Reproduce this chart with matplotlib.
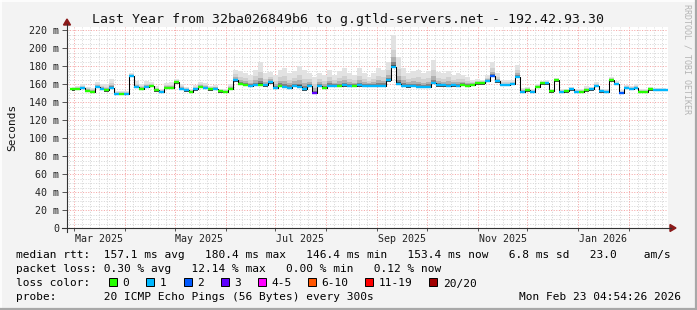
import numpy as np
import pandas as pd
import matplotlib
matplotlib.use("Agg")
import matplotlib.pyplot as plt
from matplotlib.patches import Rectangle, Polygon

W, H, DPI = 697, 310, 100
MONO = "DejaVu Sans Mono"

# one sample every 3 days (ms)
dates = pd.date_range("2025-02-28", periods=121, freq="3D")
median_ms = [
    154, 155, 156, 152.6, 151.5, 157, 155, 153, 156, 149,
    149, 149, 169, 157, 155, 157, 158, 153, 151, 156,
    156, 162, 155, 153, 151.5, 154, 157, 156, 154, 155,
    152, 151.5, 155, 164, 160, 159, 158, 159, 159, 158.5,
    162, 156, 158, 157, 156, 158, 157, 154, 158, 150,
    158, 156, 158, 158, 158, 158.5, 158, 158, 158.5, 158,
    158, 158, 158, 158, 164, 179, 160, 158, 157.5, 158,
    157, 157, 157, 161, 158.5, 158.5, 158, 158.5, 158, 159,
    158, 159, 160.7, 160.7, 163.7, 169, 163, 159, 159, 160,
    168, 151.5, 153, 151.5, 157, 160.7, 160.7, 152, 164, 151.5,
    152, 154, 151.5, 151.5, 153, 154, 158, 152, 151.5, 164,
    160, 150, 156, 155, 156, 151.5, 151.5, 154, 153.3, 153.3,
    153.4,
]
smoke_top_ms = [
    157, 158, 160, 157, 156, 162, 160, 160, 166, 152,
    152, 152, 172, 163, 160, 163, 162, 158, 155, 161,
    162, 166, 160, 157, 155, 159, 162, 161, 158, 159,
    155, 154, 160, 176, 174, 172, 170, 176, 185, 172,
    173, 170, 176, 178, 172, 174, 180, 176, 172, 168,
    172, 170, 176, 170, 174, 178, 172, 170, 178, 172,
    168, 172, 178, 176, 185, 214, 190, 178, 172, 174,
    176, 172, 174, 187, 173, 172, 175, 170, 172, 170,
    168, 165, 166, 165, 170, 185, 172, 164, 164, 165,
    181, 156, 157, 155, 160, 163, 164, 155, 167, 154,
    155, 157, 154, 155, 158, 157, 162, 155, 154, 168,
    163, 153, 159, 158, 160, 154, 154, 157, 156, 156,
    156,
]
# lost pings out of 20 per sample
loss = [
    0, 0, 1, 0, 0, 1, 1, 0, 1, 1,
    0, 1, 1, 1, 0, 1, 0, 0, 1, 0,
    0, 0, 1, 1, 0, 1, 0, 1, 0, 1,
    0, 0, 0, 1, 0, 0, 1, 1, 0, 1,
    1, 1, 0, 1, 1, 1, 1, 1, 1, 3,
    1, 0, 1, 1, 0, 1, 1, 0, 1, 1,
    1, 1, 1, 1, 1, 1, 1, 1, 1, 1,
    1, 1, 1, 1, 1, 1, 1, 1, 1, 0,
    0, 0, 0, 0, 1, 2, 1, 1, 1, 1,
    1, 1, 0, 1, 0, 0, 1, 0, 0, 1,
    0, 1, 1, 0, 0, 1, 1, 1, 1, 0,
    1, 2, 1, 1, 1, 0, 0, 0, 1, 1,
    1,
]

y_ticks = [0, 20, 40, 60, 80, 100, 120, 140, 160, 180, 200, 220]
y_tick_labels = ["0", "20 m", "40 m", "60 m", "80 m", "100 m", "120 m",
                 "140 m", "160 m", "180 m", "200 m", "220 m"]
x_label_dates = ["2025-03-16", "2025-05-16", "2025-07-16", "2025-09-16",
                 "2025-11-16", "2026-01-16"]
x_labels = ["Mar 2025", "May 2025", "Jul 2025", "Sep 2025", "Nov 2025", "Jan 2026"]

loss_names = ["0", "1", "2", "3", "4-5", "6-10", "11-19", "20/20"]
loss_colors = ["#26ff00", "#00b8ff", "#0059ff", "#5e00ff",
               "#ff00ff", "#ff5500", "#ff0000", "#a10000"]

title = "Last Year from 32ba026849b6 to g.gtld-servers.net - 192.42.93.30"
rtt_line = ("median rtt:  157.1 ms avg   180.4 ms max   146.4 ms min   "
            "153.4 ms now   6.8 ms sd   23.0    am/s")
loss_line = "packet loss: 0.30 % avg   12.14 % max   0.00 % min   0.12 % now"
probe_line = "probe:       20 ICMP Echo Pings (56 Bytes) every 300s"
stamp = "Mon Feb 23 04:54:26 2026"

BG = "#f3f3f3"
fig = plt.figure(figsize=(W / DPI, H / DPI), dpi=DPI, facecolor=BG)

# pixel-space helper axes, behind everything
back = fig.add_axes([0, 0, 1, 1])
back.set_xlim(0, W)
back.set_ylim(H, 0)
back.axis("off")
back.add_patch(Rectangle((0, 0), W, H, facecolor=BG, edgecolor="none"))
back.plot([0, W - 1], [0.5, 0.5], color="#ffffff", lw=1.2)
back.plot([0.5, 0.5], [0, H - 1], color="#ffffff", lw=1.2)
back.plot([0, W], [H - 1, H - 1], color="#a8a8a8", lw=1.6)
back.plot([W - 1, W - 1], [0, H], color="#a8a8a8", lw=1.6)

# plot panel: x = 67..668 px, y = 27..228 px
x0, x1, ytop, ybot = 67, 668, 27, 228
ax = fig.add_axes([x0 / W, 1 - ybot / H, (x1 - x0) / W, (ybot - ytop) / H])
ax.set_facecolor("white")
t_left = pd.Timestamp("2025-02-24 18:00")
t_right = pd.Timestamp("2026-02-24 10:00")
ax.set_xlim(t_left, t_right)
ax.set_ylim(0, (ybot - ytop) / 0.9)
for s in ax.spines.values():
    s.set_visible(False)

# grid
dot = (0, (1, 1.6))
minor_c, major_c = "#d6d6d6", "#f4a4a4"
for v in range(5, 225, 5):
    if v % 20:
        ax.axhline(v, color=minor_c, lw=0.72, ls=dot, zorder=0)
for v in y_ticks[1:]:
    ax.axhline(v, color=major_c, lw=0.72, ls=dot, zorder=0)
for d in pd.date_range("2025-02-01", "2026-03-01", freq="D"):
    if d < t_left or d > t_right:
        continue
    if d.day in (6, 11, 16, 21, 26):
        ax.axvline(d, color=minor_c, lw=0.72, ls=dot, zorder=0)
    elif d.day == 1:
        ax.axvline(d, color=major_c, lw=0.72, ls=dot, zorder=0)

# smoke
med = np.array(median_ms)
top = np.array(smoke_top_ms)
bot = med - 1.5
for frac, col in [(1.0, "#e2e2e2"), (0.55, "#d0d0d0"), (0.3, "#b0b0b0"),
                  (0.15, "#828282"), (0.06, "#454545")]:
    ax.fill_between(dates, bot, med + frac * (top - med), step="mid",
                    color=col, lw=0, zorder=1)

# median line coloured by loss
ax.plot(dates, med, drawstyle="steps-mid", color="black", lw=0.75, zorder=2)
half = pd.Timedelta(days=1.5)
ax.hlines(med, dates - half, dates + half,
          colors=[loss_colors[k] for k in loss], lw=1.7, zorder=3)

# ticks
ax.set_yticks(y_ticks, y_tick_labels, family=MONO, fontsize=7.2)
ax.tick_params(axis="y", length=3.5, width=0.7, color="#555555", pad=2, labelcolor="#222222")
ax.set_xticks(pd.to_datetime(x_label_dates), x_labels, family=MONO, fontsize=7.2)
ax.tick_params(axis="x", length=0, pad=4, labelcolor="#222222")
ax.set_xticks(pd.date_range("2025-03-01", "2026-02-01", freq="MS"), minor=True)
ax.tick_params(axis="x", which="minor", length=2.5, width=0.7, color="#555555")

# overlay in pixel space for axes arrows and texts
fg = fig.add_axes([0, 0, 1, 1])
fg.set_xlim(0, W)
fg.set_ylim(H, 0)
fg.axis("off")
fg.patch.set_alpha(0)
fg.plot([62, 671], [ybot, ybot], color="#333333", lw=0.8)
fg.plot([x0, x0], [232, 24], color="#333333", lw=0.8)
fg.add_patch(Polygon([[x0 - 3.5, 25], [x0 + 3.5, 25], [x0, 19]], color="#8b1a1a"))
fg.add_patch(Polygon([[670, ybot - 3.5], [670, ybot + 3.5], [676, ybot]], color="#8b1a1a"))

fg.text(348, 23, title, family=MONO, fontsize=9.5, ha="center", va="baseline", color="#111111")
fg.text(12, 127, "Seconds", family=MONO, fontsize=8, rotation=90, ha="center", va="center", color="#111111")
fg.text(687, 4, "RRDTOOL / TOBI OETIKER", family=MONO, fontsize=6, rotation=270,
        ha="center", va="top", color="#b4b4b4")

LEG = 8.0
CW = 6.7  # character advance in px at LEG
fg.text(16, 258.5, rtt_line, family=MONO, fontsize=LEG, va="baseline")
fg.text(16, 272.5, loss_line, family=MONO, fontsize=LEG, va="baseline")
fg.text(16, 286.5, "loss color:", family=MONO, fontsize=LEG, va="baseline")
bx = 109.3
for name, col in zip(loss_names, loss_colors):
    fg.add_patch(Rectangle((bx, 277.5), 8, 8, facecolor=col, edgecolor="black", lw=0.7))
    fg.text(bx + 13.4, 286.5, name, family=MONO, fontsize=LEG, va="baseline")
    bx += 13.4 + CW * len(name) + 17
fg.text(16, 300.5, probe_line, family=MONO, fontsize=LEG, va="baseline")
fg.text(681, 300.5, stamp, family=MONO, fontsize=LEG, va="baseline", ha="right")

fig.savefig("out.png", dpi=DPI, facecolor=BG)
